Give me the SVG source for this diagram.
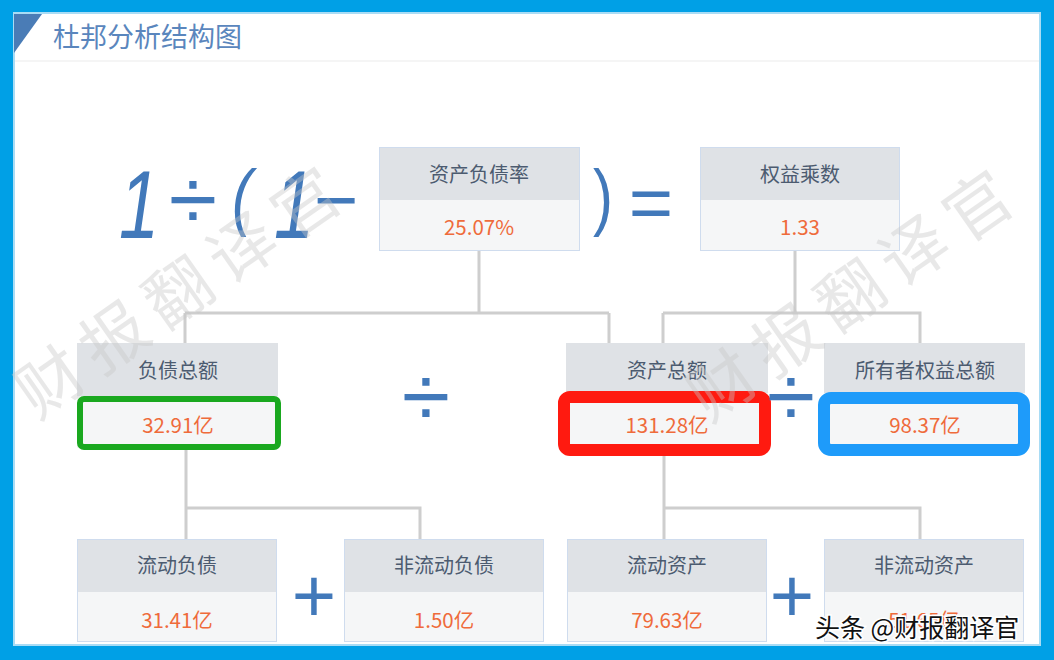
<svg xmlns="http://www.w3.org/2000/svg" width="1054" height="660" viewBox="0 0 1054 660">
<style>
.hdr{fill:#dfe2e6}
.val{fill:#f5f6f7}
.bd{fill:none;stroke:#cfdcee;stroke-width:1}
.ht{font-family:"Noto Sans CJK SC","Noto Sans",sans-serif;font-size:20px;fill:#4c5b70;text-anchor:middle;dominant-baseline:central}
.vt{font-family:"Noto Sans CJK SC","Noto Sans",sans-serif;font-size:20.5px;fill:#ef6b3b;text-anchor:middle;dominant-baseline:central}
.op{font-family:"Liberation Sans",Arial,sans-serif;fill:#4279ba;text-anchor:middle}
.conn{stroke:#cecece;stroke-width:3;fill:none}
.wm{font-family:"Noto Sans CJK SC",sans-serif;font-size:66px;letter-spacing:12px;fill:#c8c8c8;opacity:0.4;text-anchor:middle;dominant-baseline:central}
</style>
<rect x="0" y="0" width="1054" height="660" fill="#00a0e6"/>
<rect x="14" y="13" width="1026" height="632" fill="#ffffff" stroke="#a9dcf5" stroke-width="2"/>
<polygon points="14,14 42,14 14,53" fill="#4a7cb6"/>
<text x="53" y="47" font-family="'Noto Sans CJK SC',sans-serif" font-size="27" fill="#5a86bd">杜邦分析结构图</text>
<line x1="15" y1="61" x2="1039" y2="61" stroke="#f2f2f2" stroke-width="1.5"/>

<g id="formula" class="op">
<text transform="translate(139,238) scale(0.75,1)" font-size="96" font-style="italic">1</text>
<text x="193" y="230" font-size="88">÷</text>
<text transform="translate(242,222) scale(0.8,1)" font-size="75" font-style="italic">(</text>
<text transform="translate(294,238) scale(0.75,1)" font-size="96" font-style="italic">1</text>
<text x="336" y="226" font-size="76">−</text>
<text transform="translate(603,222) scale(0.8,1)" font-size="75">)</text>
<text x="651" y="229" font-size="76">=</text>
</g>

<g id="connectors" class="conn">
<path d="M479 251 V313 M185 313 H609 M185 313 V343 M609 313 V343"/>
<path d="M795 251 V313 M663 313 H920 V343 M663 313 V343"/>
<path d="M186 450 V508 H420 V539 M186 508 V539"/>
<path d="M664 456 V508 H920 V539 M664 508 V539"/>
</g>

<g id="n-debt-ratio">
<rect class="hdr" x="379" y="147" width="201" height="53"/>
<rect class="val" x="379" y="200" width="201" height="51"/>
<rect class="bd" x="379.5" y="147.5" width="200" height="103"/>
<text class="ht" x="479" y="173">资产负债率</text>
<text class="vt" x="479" y="226">25.07%</text>
</g>
<g id="n-equity-multiplier">
<rect class="hdr" x="700" y="147" width="200" height="53"/>
<rect class="val" x="700" y="200" width="200" height="51"/>
<rect class="bd" x="700.5" y="147.5" width="199" height="103"/>
<text class="ht" x="800" y="173">权益乘数</text>
<text class="vt" x="800" y="226">1.33</text>
</g>

<g id="n-total-liabilities">
<rect class="hdr" x="77" y="343" width="201" height="53"/>
<rect class="val" x="77" y="396" width="201" height="52"/>
<rect x="80" y="399" width="198" height="48" rx="4" fill="none" stroke="#1aa81f" stroke-width="6"/>
<text class="ht" x="178" y="369">负债总额</text>
<text class="vt" x="178" y="424">32.91亿</text>
</g>
<g id="n-total-assets">
<rect class="hdr" x="566" y="343" width="202" height="50"/>
<rect class="val" x="566" y="393" width="202" height="60"/>
<rect x="564" y="397" width="201" height="53" rx="6" fill="none" stroke="#ff1a10" stroke-width="12"/>
<text class="ht" x="667" y="369">资产总额</text>
<text class="vt" x="667" y="424">131.28亿</text>
</g>
<g id="n-owner-equity">
<rect class="hdr" x="824" y="343" width="201" height="50"/>
<rect class="val" x="824" y="393" width="201" height="60"/>
<rect x="824" y="398" width="200" height="52" rx="7" fill="none" stroke="#1e9bfa" stroke-width="12"/>
<text class="ht" x="925" y="369">所有者权益总额</text>
<text class="vt" x="925" y="424">98.37亿</text>
</g>

<g id="n-current-liabilities">
<rect class="hdr" x="77" y="539" width="200" height="53"/>
<rect class="val" x="77" y="592" width="200" height="50"/>
<rect class="bd" x="77.5" y="539.5" width="199" height="102"/>
<text class="ht" x="177" y="564">流动负债</text>
<text class="vt" x="177" y="619">31.41亿</text>
</g>
<g id="n-noncurrent-liabilities">
<rect class="hdr" x="344" y="539" width="200" height="53"/>
<rect class="val" x="344" y="592" width="200" height="50"/>
<rect class="bd" x="344.5" y="539.5" width="199" height="102"/>
<text class="ht" x="444" y="564">非流动负债</text>
<text class="vt" x="444" y="619">1.50亿</text>
</g>
<g id="n-current-assets">
<rect class="hdr" x="567" y="539" width="200" height="53"/>
<rect class="val" x="567" y="592" width="200" height="50"/>
<rect class="bd" x="567.5" y="539.5" width="199" height="102"/>
<text class="ht" x="667" y="564">流动资产</text>
<text class="vt" x="667" y="619">79.63亿</text>
</g>
<g id="n-noncurrent-assets">
<rect class="hdr" x="824" y="539" width="200" height="53"/>
<rect class="val" x="824" y="592" width="200" height="50"/>
<rect class="bd" x="824.5" y="539.5" width="199" height="102"/>
<text class="ht" x="924" y="564">非流动资产</text>
<text class="vt" x="924" y="619">51.65亿</text>
</g>

<g id="operators" class="op">
<text x="426" y="427" font-size="88">÷</text>
<text x="791" y="427" font-size="88">÷</text>
<text x="314" y="622" font-size="76">+</text>
<text x="792" y="622" font-size="76">+</text>
</g>

<g id="watermarks">
<text class="wm" transform="translate(180,285) rotate(-35)">财报翻译官</text>
<text class="wm" transform="translate(852,288) rotate(-35)">财报翻译官</text>
<text x="815" y="637" font-family="'Noto Sans CJK SC',sans-serif" font-size="25" fill="#111111" stroke="#ffffff" stroke-width="3" paint-order="stroke">头条 @财报翻译官</text>
</g>
</svg>
